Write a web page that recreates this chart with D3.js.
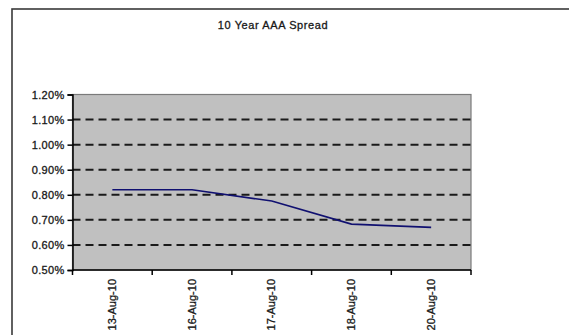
<!DOCTYPE html>
<html>
<head>
<meta charset="utf-8">
<script src="https://cdn.jsdelivr.net/npm/d3@7"></script>
<style>
  html, body { margin: 0; padding: 0; background: #fff; }
  svg { display: block; }
  text { font-family: Arial, "Liberation Sans", sans-serif; fill: #111; stroke: #222; stroke-width: 0.3px; }
</style>
</head>
<body>
<svg id="chart" width="569" height="335"></svg>
<script>
// 10-year AAA spread, in percent
const title = "10 Year AAA Spread";
const dates = ["13-Aug-10", "16-Aug-10", "17-Aug-10", "18-Aug-10", "20-Aug-10"];
const spread = [0.82, 0.82, 0.775, 0.683, 0.67];
const yTicks = [0.5, 0.6, 0.7, 0.8, 0.9, 1.0, 1.1, 1.2];

const svg = d3.select("#chart");
const plot = { left: 72.5, right: 471, top: 94.5, bottom: 270 };

const x = d3.scaleBand().domain(dates).range([plot.left, plot.right]).padding(0);
const y = d3.scaleLinear().domain([0.5, 1.2]).range([plot.bottom, plot.top]);

// outer chart frame (runs off the right and bottom of the view)
svg.append("rect")
  .attr("x", 12).attr("y", 9)
  .attr("width", 600).attr("height", 400)
  .attr("fill", "none").attr("stroke", "#3a3a3a").attr("stroke-width", 1.6);

// title
svg.append("text")
  .attr("x", 273).attr("y", 29)
  .attr("text-anchor", "middle")
  .style("font-size", "11px")
  .style("letter-spacing", "0.6px")
  .text(title);

// plot background
svg.append("rect")
  .attr("x", plot.left).attr("y", plot.top)
  .attr("width", plot.right - plot.left).attr("height", plot.bottom - plot.top)
  .attr("fill", "#c0c0c0")
  .attr("stroke", "#7a7a7a").attr("stroke-width", 1.2);

// dashed gridlines
svg.append("g")
  .selectAll("line")
  .data(yTicks.filter(v => v > 0.5 && v < 1.2))
  .join("line")
  .attr("x1", plot.left).attr("x2", plot.right)
  .attr("y1", d => y(d)).attr("y2", d => y(d))
  .attr("stroke", "#1a1a1a").attr("stroke-width", 2)
  .attr("stroke-dasharray", "8,5");

// y axis
const yAxis = svg.append("g")
  .attr("transform", `translate(${plot.left},0)`)
  .call(d3.axisLeft(y).tickValues(yTicks).tickSize(5).tickPadding(3)
    .tickFormat(d => d.toFixed(2) + "%"));
yAxis.select(".domain").attr("stroke", "#000").attr("stroke-width", 1.5);
yAxis.selectAll(".tick line").attr("stroke", "#000").attr("stroke-width", 1.5);
yAxis.selectAll(".tick text")
  .attr("fill", "#111")
  .style("font-size", "11px")
  .style("font-family", "Arial, 'Liberation Sans', sans-serif")
  .style("letter-spacing", "0.3px");

// x axis: ticks sit between categories
const xAxisG = svg.append("g").attr("transform", `translate(0,${plot.bottom})`);
xAxisG.append("line")
  .attr("x1", plot.left).attr("x2", plot.right)
  .attr("stroke", "#000").attr("stroke-width", 1.5);
const bounds = dates.map(d => x(d)).concat([x(dates[dates.length - 1]) + x.bandwidth()]);
xAxisG.selectAll("line.tk")
  .data(bounds)
  .join("line")
  .attr("class", "tk")
  .attr("x1", d => d).attr("x2", d => d)
  .attr("y1", 0).attr("y2", 5)
  .attr("stroke", "#000").attr("stroke-width", 1.5);
xAxisG.selectAll("text")
  .data(dates)
  .join("text")
  .attr("transform", d => `translate(${x(d) + x.bandwidth() / 2 + 3.5},9) rotate(-90)`)
  .attr("text-anchor", "end")
  .style("font-size", "11px")
  .text(d => d);

// spread line
const line = d3.line()
  .x((d, i) => x(dates[i]) + x.bandwidth() / 2)
  .y(d => y(d));
svg.append("path")
  .datum(spread)
  .attr("d", line)
  .attr("fill", "none")
  .attr("stroke", "#101070")
  .attr("stroke-width", 1.6);
</script>
</body>
</html>
